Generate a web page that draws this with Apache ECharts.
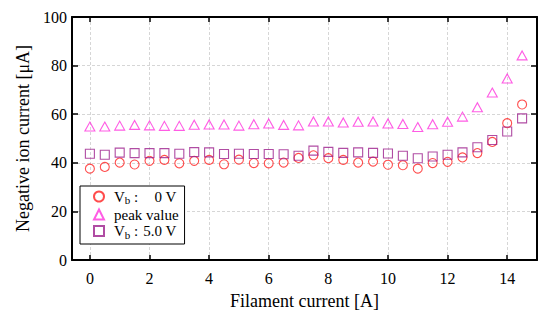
<!DOCTYPE html>
<html>
<head>
<meta charset="utf-8">
<script src="https://cdn.jsdelivr.net/npm/echarts@6/dist/echarts.min.js"></script>
<style>
  html, body { margin: 0; padding: 0; background: #fff; }
  #chart { width: 538px; height: 322px; }
</style>
</head>
<body>
<div id="chart"></div>
<script>
// filament current [A]
const filamentCurrent = [0, 0.5, 1, 1.5, 2, 2.5, 3, 3.5, 4, 4.5, 5, 5.5, 6, 6.5, 7,
  7.5, 8, 8.5, 9, 9.5, 10, 10.5, 11, 11.5, 12, 12.5, 13, 13.5, 14, 14.5];

// negative ion current [uA]
const vb0 = [37.6, 38.3, 40.1, 39.3, 40.8, 41.2, 39.8, 40.8, 41.2, 39.4, 41.3, 39.9, 39.8, 40.1, 42.0,
  43.1, 41.9, 41.2, 40.1, 40.5, 39.2, 39.0, 37.6, 39.9, 40.4, 42.2, 44.0, 48.6, 56.3, 64.0];
const peakValue = [54.9, 54.9, 55.3, 55.6, 55.4, 55.2, 55.2, 55.7, 55.8, 55.8, 55.3, 55.9, 56.2, 55.6, 55.4,
  57.0, 57.0, 56.6, 56.9, 57.0, 56.2, 56.0, 54.7, 55.9, 56.9, 59.0, 62.9, 68.9, 74.7, 84.2];
const vb5 = [43.7, 43.3, 44.2, 44.0, 44.0, 44.0, 43.7, 44.4, 44.3, 43.6, 43.7, 43.6, 43.6, 43.5, 42.9,
  45.0, 44.5, 44.1, 44.3, 44.1, 43.8, 42.9, 41.9, 42.6, 43.3, 44.3, 46.4, 49.4, 52.9, 58.3];

const xTicks = [0, 2, 4, 6, 8, 10, 12, 14];

const FONT = 'Liberation Serif';

const pairs = (ys) => filamentCurrent.map((x, i) => [x, ys[i]]);

const gridLine = { show: true, lineStyle: { color: '#d6d6d6', width: 1, type: [3, 2] } };
const frameLine = { show: true, onZero: false, lineStyle: { color: '#000', width: 2 } };

const chart = echarts.init(document.getElementById('chart'), null, { renderer: 'svg' });

const hollow = (color) => ({ color: 'rgba(0,0,0,0)', borderColor: color, borderWidth: 1.1 });

chart.setOption({
  animation: false,
  textStyle: { fontFamily: FONT },
  grid: { left: 72, right: 1, top: 17, bottom: 62 },
  legend: {
    orient: 'vertical',
    left: 80,
    top: 186,
    padding: [3, 6, 4, 13],
    itemGap: 1.5,
    itemWidth: 10,
    itemHeight: 10,
    backgroundColor: '#fff',
    borderColor: '#000',
    borderWidth: 1,
    borderRadius: 0,
    data: ['Vb0', 'peak value', 'Vb5'],
    formatter: (name) => {
      if (name === 'Vb0') return '{v|V}{s|b}{c| :}{n|0 V}';
      if (name === 'Vb5') return '{v|V}{s|b}{c| :}{n|5.0 V}';
      return '{t|peak value}';
    },
    textStyle: {
      fontFamily: FONT,
      fontSize: 15,
      color: '#000',
      padding: [0, 0, 0, 5],
      rich: {
        v: { fontFamily: FONT, fontSize: 15, lineHeight: 18, color: '#000' },
        s: { fontFamily: FONT, fontSize: 11, lineHeight: 11, verticalAlign: 'bottom', color: '#000' },
        c: { fontFamily: FONT, fontSize: 15, lineHeight: 18, color: '#000' },
        n: { fontFamily: FONT, fontSize: 15, lineHeight: 18, color: '#000', width: 38, align: 'right' },
        t: { fontFamily: FONT, fontSize: 15, lineHeight: 18, color: '#000' }
      }
    }
  },
  xAxis: [
    {
      type: 'value',
      min: -0.6,
      max: 15,
      position: 'bottom',
      name: 'Filament current [A]',
      nameLocation: 'middle',
      nameGap: 32,
      nameTextStyle: { fontFamily: FONT, fontSize: 18, color: '#000' },
      axisLine: frameLine,
      axisTick: { inside: true, length: 5, customValues: xTicks, lineStyle: { color: '#000', width: 1.5 } },
      axisLabel: { customValues: xTicks, margin: 10, fontFamily: FONT, fontSize: 16, color: '#000' },
      splitLine: gridLine
    },
    {
      type: 'value',
      min: -0.6,
      max: 15,
      position: 'top',
      axisLine: frameLine,
      axisTick: { inside: true, length: 5, customValues: xTicks, lineStyle: { color: '#000', width: 1.5 } },
      axisLabel: { show: false },
      splitLine: { show: false }
    }
  ],
  yAxis: [
    {
      type: 'value',
      min: 0,
      max: 100,
      interval: 20,
      position: 'left',
      name: 'Negative ion current [\u03bcA]',
      nameLocation: 'middle',
      nameGap: 38,
      nameTextStyle: { fontFamily: FONT, fontSize: 18, color: '#000' },
      axisLine: frameLine,
      axisTick: { inside: true, length: 6, lineStyle: { color: '#000', width: 1.5 } },
      axisLabel: { margin: 5, fontFamily: FONT, fontSize: 16, color: '#000' },
      splitLine: gridLine
    },
    {
      type: 'value',
      min: 0,
      max: 100,
      interval: 20,
      position: 'right',
      axisLine: frameLine,
      axisTick: { inside: true, length: 6, lineStyle: { color: '#000', width: 1.5 } },
      axisLabel: { show: false },
      splitLine: { show: false }
    }
  ],
  series: [
    {
      name: 'Vb0',
      type: 'scatter',
      symbol: 'circle',
      symbolSize: 9,
      itemStyle: hollow('#ff1f1f'),
      data: pairs(vb0)
    },
    {
      name: 'peak value',
      type: 'scatter',
      symbol: 'triangle',
      symbolSize: [10, 9],
      itemStyle: hollow('#ff33dd'),
      data: pairs(peakValue)
    },
    {
      name: 'Vb5',
      type: 'scatter',
      symbol: 'rect',
      symbolSize: 9,
      itemStyle: hollow('#9c1f8c'),
      data: pairs(vb5)
    }
  ]
});
</script>
</body>
</html>
